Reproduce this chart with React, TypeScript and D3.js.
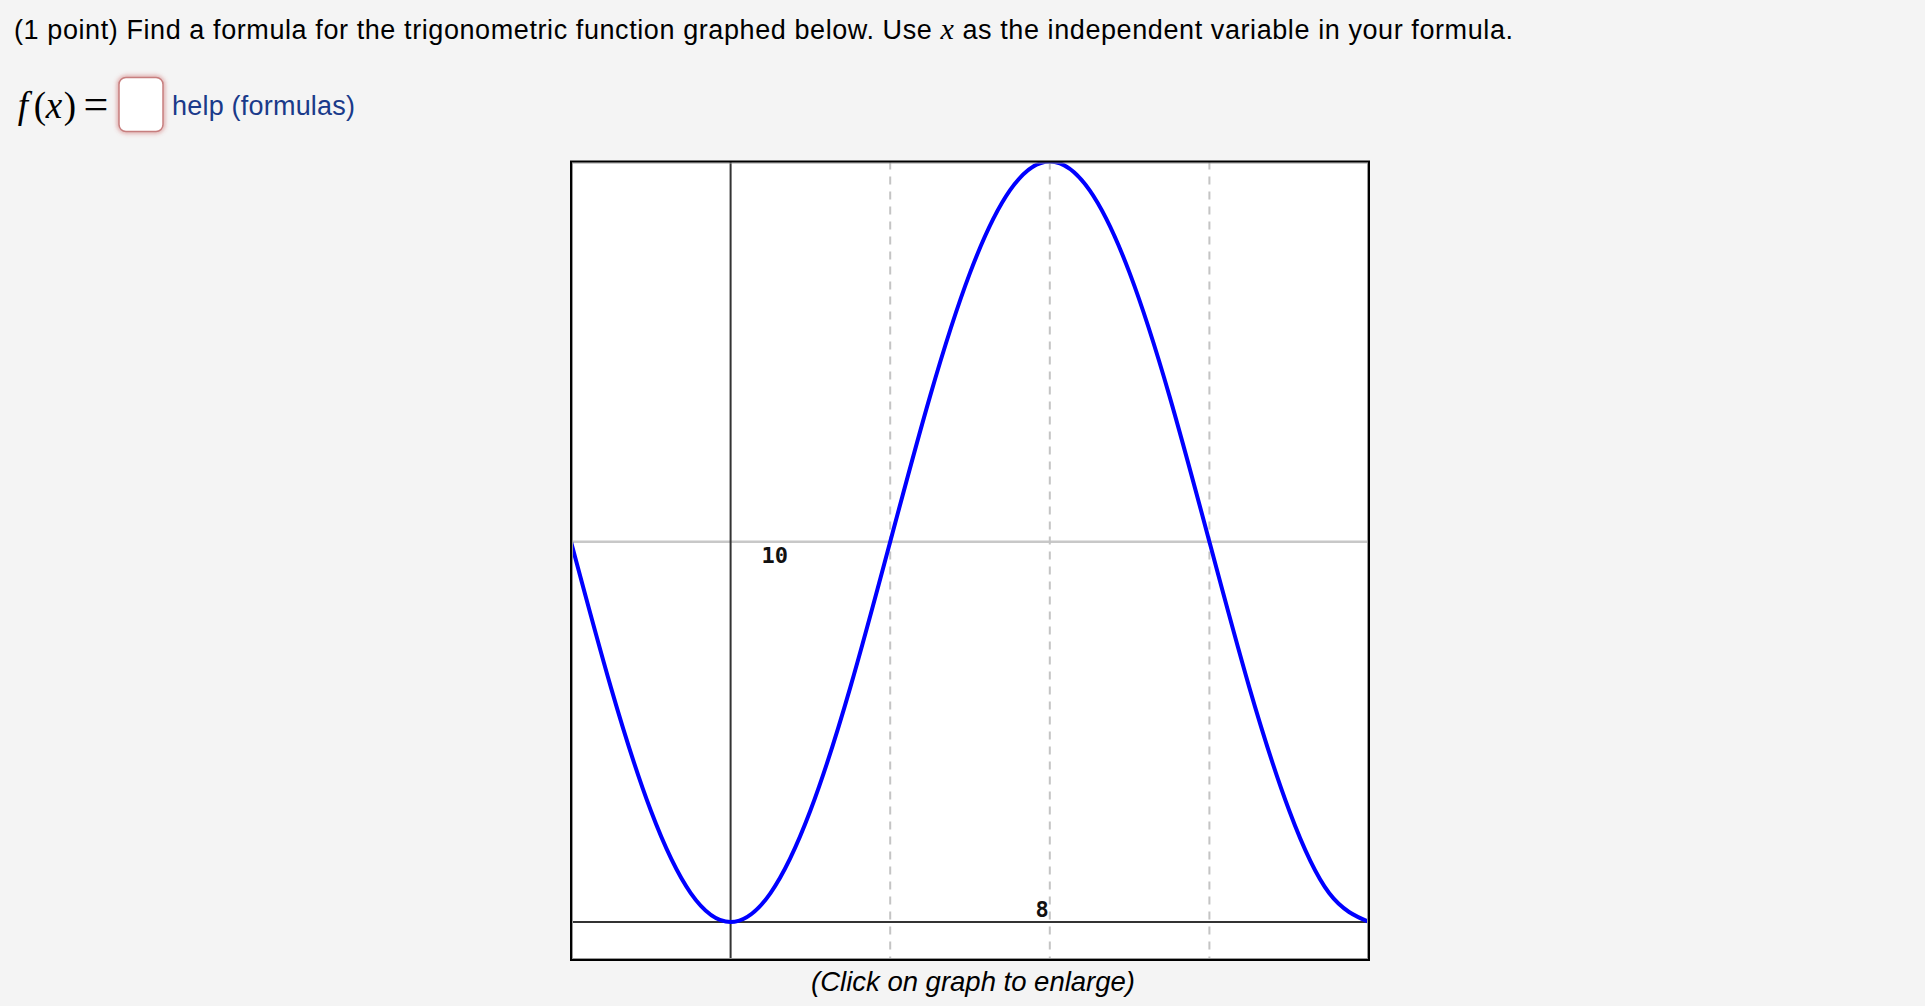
import React from "react";
import * as d3 from "d3";

// ---- data ----
const xValues = [-4, -3, -2, -1, 0, 1, 2, 3, 4, 5, 6, 7, 8, 9, 10, 11, 12, 13, 14, 15, 16];
const yValues = [10, 6.17, 2.93, 0.76, 0, 0.76, 2.93, 6.17, 10, 13.83, 17.07, 19.24, 20, 19.24, 17.07, 13.83, 10, 6.17, 2.93, 0.76, 0];
const xDomain = [-4, 16];
const yDomain = [-1, 20];
const xGridTicks = [4, 8, 12];
const yGridTicks = [10];
const xTickLabels = [{ value: 8, text: "8" }];
const yTickLabels = [{ value: 10, text: "10" }];

const questionText = "(1 point) Find a formula for the trigonometric function graphed below. Use ";
const questionText2 = " as the independent variable in your formula.";
const helpText = "help (formulas)";
const captionText = "(Click on graph to enlarge)";

const W = 1925;
const H = 1006;
const plot = { left: 571, top: 161.5, width: 798, height: 798.5 };

export default function App() {
  const x = d3.scaleLinear().domain(xDomain).range([plot.left, plot.left + plot.width]);
  const y = d3.scaleLinear().domain(yDomain).range([plot.top + plot.height, plot.top]);
  const pts = xValues.map((v, i) => [v, yValues[i]] as [number, number]);
  const line = d3
    .line<[number, number]>()
    .x((d) => x(d[0]))
    .y((d) => y(d[1]))
    .curve(d3.curveNatural);
  const sans = "'Liberation Sans', Arial, Helvetica, sans-serif";
  const serif = "'Liberation Serif', 'Times New Roman', serif";
  const mono = "'DejaVu Sans Mono', 'Liberation Mono', monospace";

  return (
    <div style={{ position: "absolute", left: 0, top: 0, width: W, height: H, overflow: "hidden" }}>
      <svg width={W} height={H} style={{ display: "block" }}>
        <defs>
          <clipPath id="plotclip">
            <rect x={plot.left} y={plot.top} width={plot.width} height={plot.height} />
          </clipPath>
          <filter id="glow" x="-50%" y="-50%" width="200%" height="200%">
            <feGaussianBlur stdDeviation="2" />
          </filter>
        </defs>
        <rect x={0} y={0} width={W} height={H} fill="#f4f4f4" />

        {/* question text */}
        <text x={14} y={39} fontFamily={sans} fontSize={27} fill="#000" textLength={1499} lengthAdjust="spacing">
          {questionText}
          <tspan fontFamily={serif} fontStyle="italic" fontSize={30}>x</tspan>
          {questionText2}
        </text>

        {/* f(x) = */}
        <g fontFamily={serif} fontSize={37} fill="#000">
          <text x={23} y={118} textAnchor="middle" fontStyle="italic">f</text>
          <text x={40} y={118} textAnchor="middle">(</text>
          <text x={54} y={118} textAnchor="middle" fontStyle="italic">x</text>
          <text x={70} y={118} textAnchor="middle">)</text>
          <text x={96} y={119} textAnchor="middle" fontSize={44}>=</text>
        </g>

        {/* answer box */}
        <rect x={119} y={77.5} width={44} height={54} rx={7} fill="none" stroke="rgba(200,90,90,0.55)" strokeWidth={4} filter="url(#glow)" />
        <rect x={119} y={77.5} width={44} height={54} rx={7} fill="#ffffff" stroke="#c77f7f" strokeWidth={1.5} />

        <text x={172} y={115} fontFamily={sans} fontSize={27} fill="#1a3a8a" textLength={183} lengthAdjust="spacing">
          {helpText}
        </text>

        {/* plot area */}
        <rect x={plot.left} y={plot.top} width={plot.width} height={plot.height} fill="#ffffff" />

        {yGridTicks.map((t) => (
          <line key={"yg" + t} x1={plot.left} x2={plot.left + plot.width} y1={y(t)} y2={y(t)} stroke="#c8c8c8" strokeWidth={2.5} />
        ))}
        {xGridTicks.map((t) => (
          <line key={"xg" + t} x1={x(t)} x2={x(t)} y1={plot.top} y2={plot.top + plot.height} stroke="#c4c4c4" strokeWidth={2} strokeDasharray="8,7" />
        ))}

        {/* axes */}
        <line x1={x(0)} x2={x(0)} y1={plot.top} y2={plot.top + plot.height} stroke="#333" strokeWidth={2} />
        <line x1={plot.left} x2={plot.left + plot.width} y1={y(0)} y2={y(0)} stroke="#333" strokeWidth={2} />

        {/* labels */}
        {yTickLabels.map((l) => (
          <text key={"yl" + l.value} x={x(0) + 31} y={y(l.value) + 21} fontFamily={mono} fontWeight="bold" fontSize={22} fill="#111">
            {l.text}
          </text>
        ))}
        {xTickLabels.map((l) => (
          <text key={"xl" + l.value} x={x(l.value) - 1} y={y(0) - 5} textAnchor="end" fontFamily={mono} fontWeight="bold" fontSize={22} fill="#111">
            {l.text}
          </text>
        ))}

        {/* curve */}
        <path d={line(pts) || ""} fill="none" stroke="#0000ff" strokeWidth={4} strokeLinejoin="round" clipPath="url(#plotclip)" />

        {/* border */}
        <rect x={plot.left + 1.5} y={plot.top + 1.5} width={plot.width - 3} height={plot.height - 3} fill="none" stroke="#9a9a9a" strokeWidth={1} />
        <rect x={plot.left} y={plot.top} width={plot.width} height={plot.height} fill="none" stroke="#000" strokeWidth={2} />

        {/* caption */}
        <text x={973} y={991} textAnchor="middle" fontFamily={sans} fontStyle="italic" fontSize={27.5} fill="#000" textLength={324} lengthAdjust="spacing">
          {captionText}
        </text>
      </svg>
    </div>
  );
}
